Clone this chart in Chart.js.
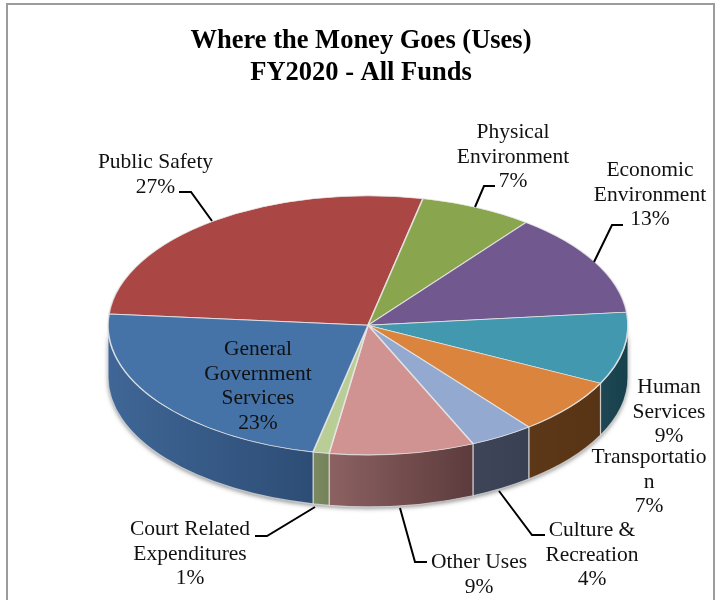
<!DOCTYPE html>
<html>
<head>
<meta charset="utf-8">
<title>Where the Money Goes (Uses)</title>
<script src="https://cdn.jsdelivr.net/npm/chart.js@4"></script>
<style>
  html, body { margin: 0; padding: 0; background: #fff; overflow: hidden; }
  #wrap { position: relative; width: 718px; height: 600px; overflow: hidden; }
  #frame { position: absolute; left: 6px; top: 3px; width: 705px; height: 640px; border: 2px solid #9c9c9c; }
  canvas { position: absolute; left: 0; top: 0; }
</style>
</head>
<body>
<div id="wrap">
  <div id="frame"></div>
  <canvas id="usesChart" width="718" height="600"></canvas>
</div>
<script>
"use strict";

const categories = ["Public Safety", "Physical Environment", "Economic Environment", "Human Services", "Transportation", "Culture & Recreation", "Other Uses", "Court Related Expenditures", "General Government Services"];
const percents = [27, 7, 13, 9, 7, 4, 9, 1, 23];
const topColors = ["#aa4643", "#89a54e", "#71588f", "#4198af", "#db843d", "#93a9cf", "#d19392", "#b9cd96", "#4572a7"];
const wallLight = ["#6a2b2a", "#55672f", "#463758", "#1e4653", "#5d3818", "#3e4558", "#8c6162", "#7c8a62", "#3f6696"];
const wallDark = ["#6a2b2a", "#55672f", "#463758", "#17404d", "#573415", "#3a4054", "#5c3b3c", "#748259", "#2d4d75"];

// wrapped text of each slice label, and where its lines start
const labelLines = [
  ["Public Safety", "27%"],
  ["Physical", "Environment", "7%"],
  ["Economic", "Environment", "13%"],
  ["Human", "Services", "9%"],
  ["Transportatio", "n", "7%"],
  ["Culture &", "Recreation", "4%"],
  ["Other Uses", "9%"],
  ["Court Related", "Expenditures", "1%"],
  ["General", "Government", "Services", "23%"],
];
const labelX = [155.5, 513, 650, 669, 649, 592, 479, 190, 258];
const labelY = [168, 138, 176, 393, 463, 536, 568, 535, 355];
const lineStep = 24.6;

const leaderLines = [
  [[179, 192], [191, 192], [212, 221]],
  [[495, 186], [484, 186], [475, 207]],
  [[623, 225], [612, 225], [594, 262]],
  [[255, 536], [267, 536], [315, 507]],
  [[400, 508], [415, 562], [427, 562]],
  [[499, 491], [532, 535], [545, 535]],
];

const tilt = 129.5 / 260;
const depth = 52;

function wallPath(ctx, x, y, r, a0, a1) {
  ctx.beginPath();
  ctx.ellipse(x, y, r, r * tilt, 0, a0, a1);
  ctx.ellipse(x, y + depth, r, r * tilt, 0, a1, a0, true);
  ctx.closePath();
}

const pieThickness = {
  id: "pieThickness",
  afterLayout(chart) {
    // the heading sits a little left of the pie centre
    chart.titleBlock.left -= 7;
    chart.titleBlock.right -= 7;
  },
  beforeDatasetsDraw(chart) {
    const ctx = chart.ctx;
    const arcs = chart.getDatasetMeta(0).data;
    const x = arcs[0].x;
    const y = arcs[0].y;
    const r = arcs[0].outerRadius;

    ctx.save();
    ctx.shadowColor = "rgba(60,60,60,0.55)";
    ctx.shadowBlur = 4;
    ctx.shadowOffsetY = 2;
    ctx.fillStyle = "#777";
    wallPath(ctx, x, y, r, 0, Math.PI);
    ctx.fill();
    ctx.restore();

    arcs.forEach((arc, i) => {
      const a0 = Math.max(arc.startAngle, 0);
      const a1 = Math.min(arc.endAngle, Math.PI);
      if (a1 <= a0) return;
      const x0 = x + r * Math.cos(a0);
      const x1 = x + r * Math.cos(a1);
      const grad = ctx.createLinearGradient(x1, 0, x0, 0);
      grad.addColorStop(0, wallLight[i]);
      grad.addColorStop(1, wallDark[i]);
      ctx.save();
      ctx.fillStyle = grad;
      ctx.strokeStyle = "rgba(225,225,225,0.75)";
      ctx.lineWidth = 1.2;
      wallPath(ctx, x, y, r, a0, a1);
      ctx.fill();
      ctx.stroke();
      ctx.restore();
    });

    // squash the slices the library draws next into the top face
    ctx.save();
    ctx.translate(x, y);
    ctx.scale(1, tilt);
    ctx.translate(-x, -y);
  },
  afterDatasetsDraw(chart) {
    const ctx = chart.ctx;
    ctx.restore();

    ctx.save();
    ctx.strokeStyle = "#000";
    ctx.lineWidth = 2;
    leaderLines.forEach((pts) => {
      ctx.beginPath();
      pts.forEach((p, i) => (i ? ctx.lineTo(p[0], p[1]) : ctx.moveTo(p[0], p[1])));
      ctx.stroke();
    });

    ctx.fillStyle = "#111";
    ctx.font = "21.5px 'Liberation Serif'";
    ctx.textAlign = "center";
    ctx.textBaseline = "alphabetic";
    labelLines.forEach((lines, i) => {
      lines.forEach((line, j) => {
        ctx.fillText(line, labelX[i], labelY[i] + j * lineStep);
      });
    });
    ctx.restore();
  },
};

new Chart(document.getElementById("usesChart"), {
  type: "pie",
  data: {
    labels: categories,
    datasets: [
      {
        data: percents,
        backgroundColor: topColors,
        borderColor: "rgba(232,232,232,0.85)",
        borderWidth: 1.6,
        radius: 260,
        clip: false,
      },
    ],
  },
  options: {
    responsive: false,
    animation: false,
    events: [],
    rotation: -85,
    layout: { padding: { left: 108, right: 90, top: 0, bottom: 38 } },
    plugins: {
      legend: { display: false },
      tooltip: { enabled: false },
      title: {
        display: true,
        text: ["Where the Money Goes (Uses)", "FY2020 - All Funds"],
        color: "#000",
        font: { family: "'Liberation Serif'", size: 26.5, weight: "bold", lineHeight: 1.18 },
        padding: { top: 26, bottom: 0 },
      },
    },
  },
  plugins: [pieThickness],
});
</script>
</body>
</html>
